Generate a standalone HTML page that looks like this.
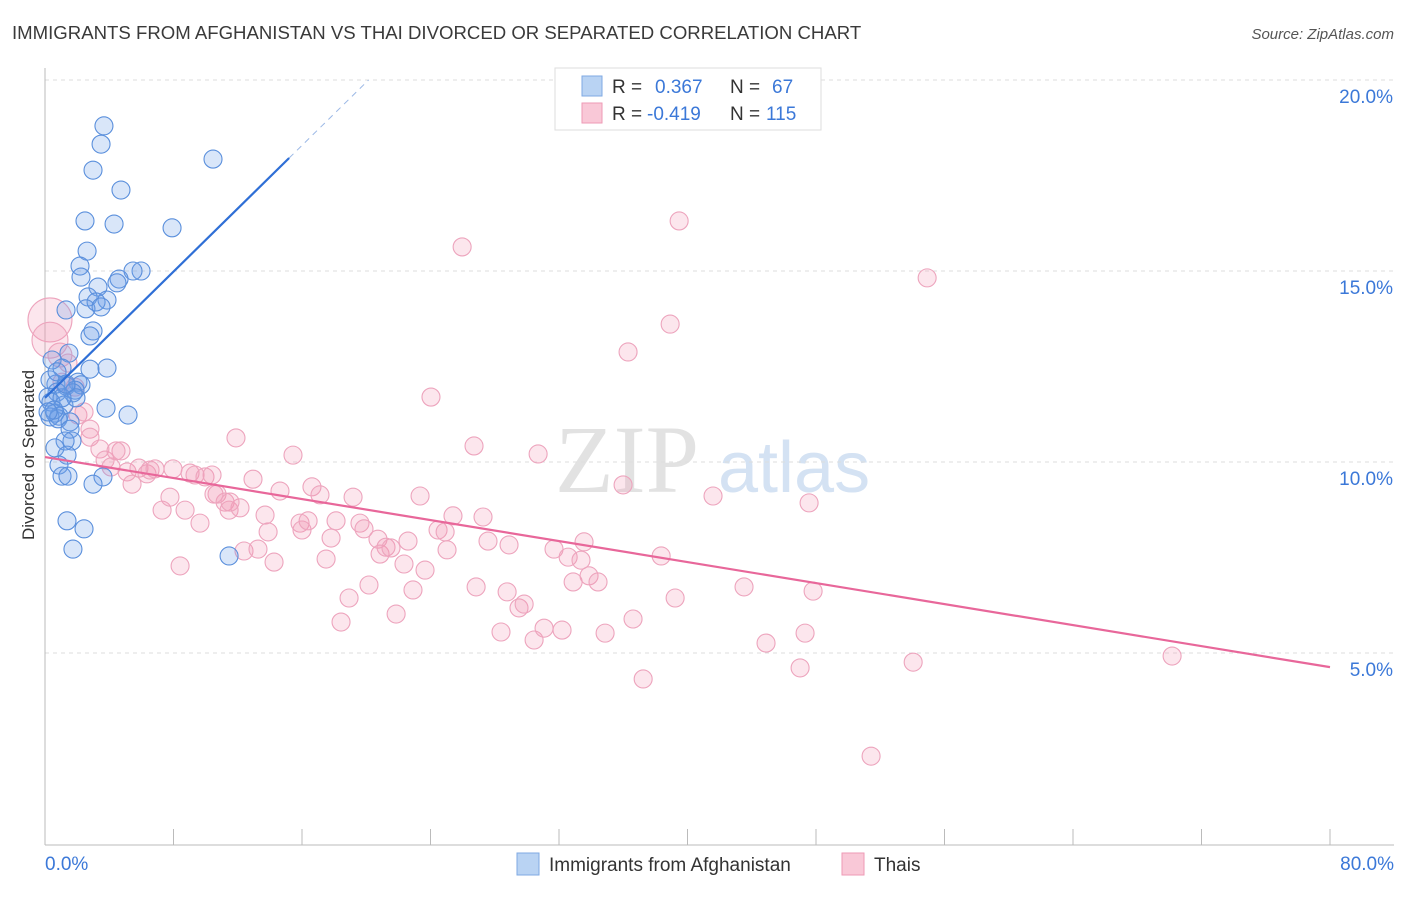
<!DOCTYPE html>
<html><head><meta charset="utf-8"><style>
body{margin:0;background:#fff;font-family:"Liberation Sans",sans-serif;}
</style></head><body>
<svg id="c" width="1406" height="892" xmlns="http://www.w3.org/2000/svg">
<text x="12" y="39" font-size="18.6" fill="#3a3a3a">IMMIGRANTS FROM AFGHANISTAN VS THAI DIVORCED OR SEPARATED CORRELATION CHART</text>
<text x="1394" y="39" font-size="15" fill="#555" font-style="italic" text-anchor="end">Source: ZipAtlas.com</text>
<text x="555" y="492" font-size="96" fill="#e2e2e2" font-family="Liberation Serif">ZIP</text>
<text x="718" y="492" font-size="72" fill="#d4e2f3">atlas</text>
<g id="grid"></g><g id="axes"></g><g id="pts"></g><g id="lines"></g>
<text transform="translate(34,455) rotate(-90)" font-size="17" fill="#333" text-anchor="middle">Divorced or Separated</text>
<g>
<rect x="555" y="68" width="266" height="62" fill="#fff" stroke="#ddd"/>
<rect x="582" y="76" width="20" height="20" fill="#b9d3f3" stroke="#7fa9e3"/>
<rect x="582" y="103" width="20" height="20" fill="#f9c8d7" stroke="#ee9ab5"/>
<text x="612" y="93" font-size="19" fill="#333">R = <tspan fill="#3b78d8" x="655">0.367</tspan><tspan fill="#333" x="730">N =</tspan><tspan fill="#3b78d8" x="772">67</tspan></text>
<text x="612" y="120" font-size="19" fill="#333">R = <tspan fill="#3b78d8" x="647">-0.419</tspan><tspan fill="#333" x="730">N =</tspan><tspan fill="#3b78d8" x="766">115</tspan></text>
</g>
<g><rect x="517" y="853" width="22" height="22" fill="#b9d3f3" stroke="#7fa9e3"/><text x="549" y="871" font-size="19" fill="#333">Immigrants from Afghanistan</text></g>
<g><rect x="842" y="853" width="22" height="22" fill="#f9c8d7" stroke="#ee9ab5"/><text x="874" y="871" font-size="19" fill="#333">Thais</text></g>
</svg>
<script>
const blueX=[3.67,3.49,2.99,4.73,2.49,4.30,7.91,10.46,2.62,2.18,2.24,5.98,5.48,4.61,4.48,3.30,2.68,3.86,3.18,2.55,3.49,1.31,2.99,2.80,1.49,3.86,1.06,2.80,2.05,2.24,0.68,1.31,0.31,1.87,1.74,0.75,0.19,0.37,1.18,1.93,3.80,5.17,0.62,0.87,0.31,0.81,1.56,1.56,1.68,1.25,0.62,1.37,0.87,1.06,1.43,3.61,2.99,1.37,2.43,1.74,11.46,0.44,0.75,1.06,1.31,0.56,0.19];
const blueY=[18.80,18.32,17.64,17.12,16.31,16.23,16.13,17.93,15.52,15.13,14.84,15.00,15.00,14.79,14.69,14.58,14.32,14.24,14.19,14.01,14.06,13.98,13.43,13.30,12.85,12.46,12.46,12.43,12.09,12.02,12.04,11.99,12.15,11.88,11.81,11.83,11.70,11.57,11.49,11.68,11.41,11.23,11.28,11.20,11.18,11.13,11.05,10.86,10.55,10.55,10.37,10.18,9.92,9.63,9.63,9.61,9.42,8.46,8.25,7.72,7.54,12.67,12.36,11.68,12.04,11.36,11.31];
const pinkX=[0.31,0.31,0.93,1.43,1.06,1.87,2.05,2.43,2.80,2.80,3.42,3.74,4.11,4.73,4.42,5.11,5.42,5.85,6.35,6.54,6.85,7.97,9.03,9.34,9.96,10.40,7.29,7.78,8.72,9.65,10.71,11.21,11.46,12.14,12.95,11.89,12.39,13.26,13.89,14.63,13.70,14.26,15.44,15.88,16.00,16.38,16.62,17.12,17.50,17.81,18.12,18.93,18.43,19.18,19.61,19.86,20.17,20.73,20.86,21.23,21.54,21.86,22.35,22.60,22.91,23.35,23.66,24.03,24.47,24.91,25.03,25.40,25.97,26.71,26.84,27.27,27.58,28.39,28.77,28.89,29.51,29.83,30.45,30.70,31.07,32.19,31.69,32.57,32.88,33.37,33.56,33.87,34.43,34.87,35.99,36.30,36.61,37.24,38.36,38.92,39.23,39.48,41.59,43.52,44.89,47.01,47.32,47.57,47.82,54.05,54.92,51.43,70.17,8.41,10.52,11.52];
const pinkY=[13.72,13.19,12.80,12.59,12.09,11.96,11.23,11.31,10.86,10.65,10.34,10.05,9.87,10.29,10.29,9.74,9.42,9.84,9.69,9.79,9.82,9.82,9.71,9.66,9.61,9.66,8.74,9.08,8.74,8.40,9.16,8.95,8.74,8.80,9.55,10.63,7.67,7.72,8.17,9.24,8.61,7.38,10.18,8.40,8.22,8.46,9.35,9.14,7.46,8.01,8.46,6.44,5.81,9.08,8.40,8.25,6.78,7.98,7.59,7.77,7.75,6.02,7.33,7.93,6.65,9.11,7.17,11.70,8.22,8.17,7.70,8.59,15.63,10.42,6.73,8.56,7.93,5.55,6.60,7.83,6.18,6.28,5.34,10.21,5.65,5.60,7.72,7.51,6.86,7.43,7.91,7.02,6.86,5.52,9.40,12.88,5.89,4.32,7.54,13.61,6.44,16.31,9.11,6.73,5.26,4.61,5.52,8.93,6.62,4.76,14.82,2.30,4.92,7.28,9.16,8.95];
const pinkR=[22,18,12];
const blueFit=[11.68,0.413]; // intercept, slope
const pinkFit=[10.13,-0.06875];
const yTicks=[5,10,15,20];
const xTickCount=[0,8,16,24,32,40,48,56,64,72,80];

const NS="http://www.w3.org/2000/svg";
const X=v=>45+v*(1285/80), Y=v=>844-v*38.2;
function mk(p,t,a){const e=document.createElementNS(NS,t);for(const k in a)e.setAttribute(k,a[k]);document.getElementById(p).appendChild(e);return e;}
yTicks.forEach(v=>{
 const l=mk('grid','line',{x1:45,x2:1394,y1:Y(v),y2:Y(v),stroke:'#ddd','stroke-dasharray':'4,4'});
 
 
 const t=mk('grid','text',{x:1393,y:Y(v)+23,'font-size':19,fill:'#3b78d8','text-anchor':'end'});
 t.textContent=v.toFixed(1)+'%';
 
 
});
mk('axes','line',{x1:45,x2:45,y1:68,y2:845,stroke:'#bbb'});
mk('axes','line',{x1:45,x2:1394,y1:845,y2:845,stroke:'#bbb'});
xTickCount.forEach(v=>{
 const l=mk('axes','line',{x1:X(v),x2:X(v),y1:829,y2:845,stroke:'#bbb'});
 
 
});
[[0,'0.0%','start',45],[80,'80.0%','end',1394]].forEach(a=>{
 const t=mk('axes','text',{x:a[3],y:870,'font-size':19,fill:'#3b78d8','text-anchor':a[2]});
 t.textContent=a[1];
 
 
});
pinkX.forEach((x,i)=>{
 const c=mk('pts','circle',{cx:X(x),cy:Y(pinkY[i]),r:pinkR[i]||9,fill:'rgba(243,150,180,0.24)',stroke:'#eda4bd','stroke-width':1.1});
 
 
});
blueX.forEach((x,i)=>{
 const c=mk('pts','circle',{cx:X(x),cy:Y(blueY[i]),r:9,fill:'rgba(110,160,230,0.26)',stroke:'#5a8fdc','stroke-width':1.1});
 
 
});
const bEnd=15.2, bDash=(20-blueFit[0])/blueFit[1];
let l=mk('lines','line',{x1:X(0),y1:Y(blueFit[0]),x2:X(bEnd),y2:Y(blueFit[0]+blueFit[1]*bEnd),stroke:'#2f6fd6','stroke-width':2.2});


l=mk('lines','line',{x1:X(bEnd),y1:Y(blueFit[0]+blueFit[1]*bEnd),x2:X(bDash),y2:Y(20),stroke:'#9bb8e6','stroke-width':1,'stroke-dasharray':'6,5'});


l=mk('lines','line',{x1:X(0),y1:Y(pinkFit[0]),x2:X(80),y2:Y(pinkFit[0]+pinkFit[1]*80),stroke:'#e8679a','stroke-width':2.2});


</script>
</body></html>
